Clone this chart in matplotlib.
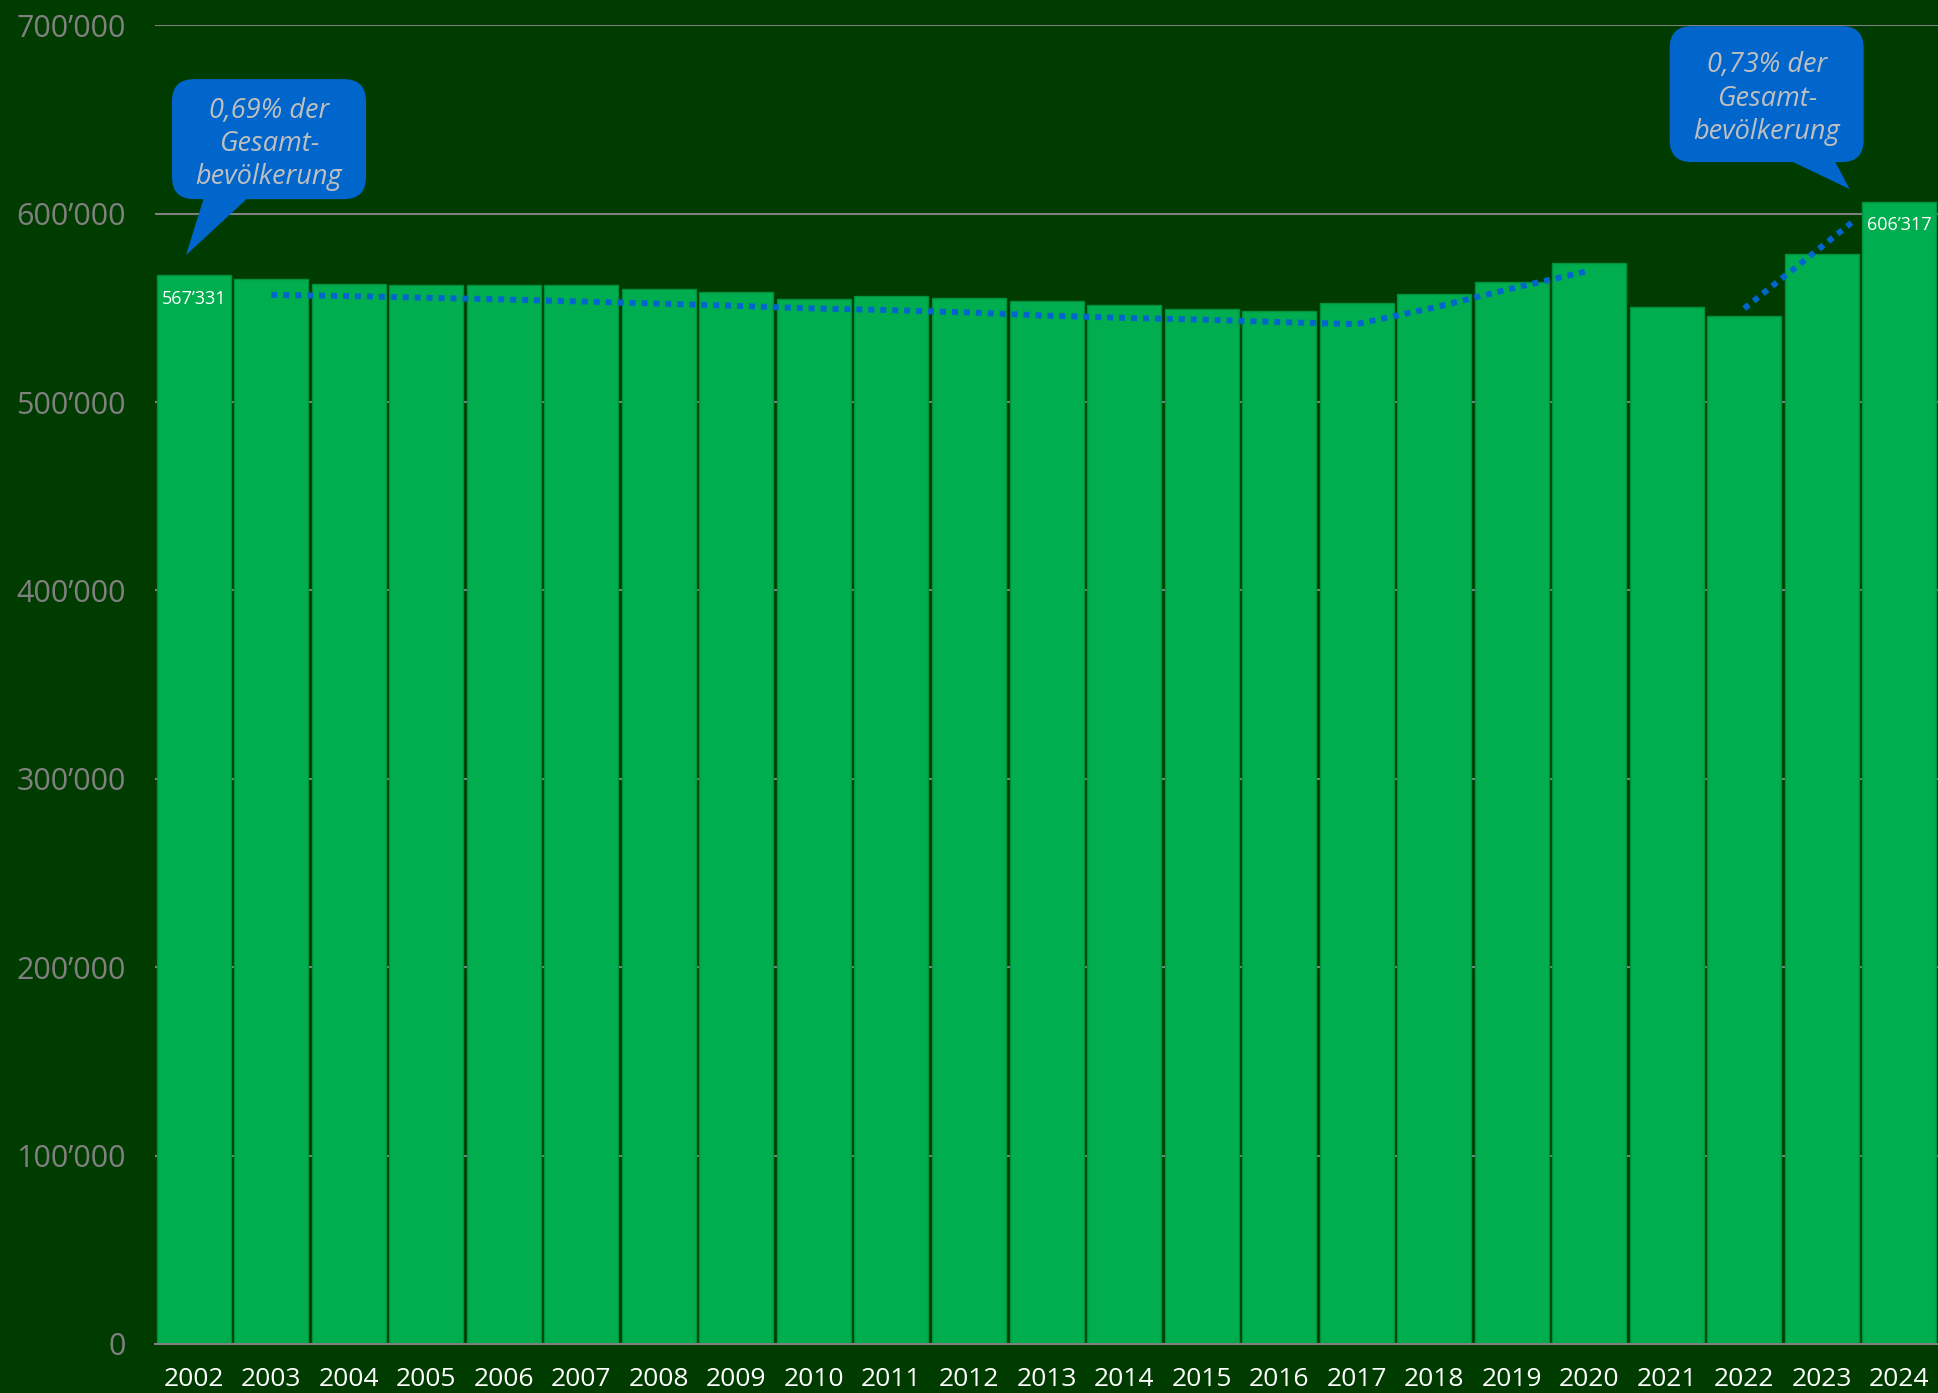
import matplotlib
matplotlib.use('Agg')
import matplotlib.pyplot as plt
from matplotlib.ticker import FuncFormatter
from matplotlib.patches import FancyBboxPatch, Polygon
from matplotlib.transforms import ScaledTranslation

# data
years = list(range(2002, 2025))
values = [567331, 565300, 562600, 561900, 562100, 561900, 559800, 558700, 554600,
          556400, 555000, 553600, 551500, 549400, 548300, 552500, 557500, 563700,
          573800, 550400, 545800, 578700, 606317]
labelled_years = [2002, 2024]

trend1_years = list(range(2003, 2021))
trend1_values = [556900, 556300, 555400, 554500, 553400, 552300, 551100, 549700, 548800,
                 547600, 545900, 544700, 543800, 542500, 541400, 550200, 560300, 569700]
trend2_years = [2022, 2023.4]
trend2_values = [549700, 595700]

yticks = [0, 100000, 200000, 300000, 400000, 500000, 600000, 700000]
callout_texts = ['0,69% der\nGesamt-\nbevölkerung', '0,73% der\nGesamt-\nbevölkerung']

bg = '#003b00'
barColor = '#00ad4f'
blue = '#0066cc'
grey = '#808080'

plt.rcParams['font.family'] = ['Open Sans', 'DejaVu Sans']

fig = plt.figure(figsize=(19.38, 13.93), dpi=100, facecolor=bg)
ax = fig.add_axes([0.080, 0.0352, 0.920, 0.9466])
ax.set_facecolor(bg)

ax.bar(years, values, width=0.955, color=barColor, edgecolor='#00913f', linewidth=1.0, zorder=2)

ax.plot(trend1_years, trend1_values, color=blue, lw=4.3, linestyle=(0, (1, 1)),
        dash_capstyle='butt', zorder=3)
ax.plot(trend2_years, trend2_values, color=blue, lw=4.3, linestyle=(0, (1, 1)),
        dash_capstyle='butt', zorder=3)

def fmt(v, pos=None):
 return '{:,}'.format(int(v)).replace(',', '\u2019')

for y, v in zip(years, values):
 if y in labelled_years:
  ax.annotate(fmt(v), xy=(y, v), xytext=(0, -17), textcoords='offset points',
              ha='center', va='center', color='white', fontsize=13, zorder=4)

ax.set_xlim(2001.5, 2024.5)
ax.set_ylim(0, 700000)
ax.set_yticks(yticks)
ax.yaxis.set_major_formatter(FuncFormatter(fmt))
ax.set_xticks(years)
ax.set_xticklabels([str(y) for y in years])
ax.tick_params(axis='y', length=0, pad=21, labelsize=22, labelcolor=grey)
ax.tick_params(axis='x', length=0, pad=16.5, labelsize=19, labelcolor='white')
ax.grid(axis='y', color=grey, lw=1.5, zorder=0)
ax.set_axisbelow(True)
for s in ['top', 'right', 'left']:
 ax.spines[s].set_visible(False)
ax.spines['bottom'].set_color(grey)
ax.spines['bottom'].set_linewidth(1.5)
ax.spines['bottom'].set_zorder(5)

# speech-bubble callouts: anchor in data units, box and tail sized in inches
callouts = [
 ((2002.97, 639600), 1.94, 1.20, [(-0.64, -0.55), (-0.17, -0.55), (-0.83, -1.16)], -0.05),
 ((2022.29, 663500), 1.94, 1.36, [(0.16, -0.63), (0.66, -0.63), (0.83, -0.95)], -0.045),
]
for text, (center, w, h, tail, dy) in zip(callout_texts, callouts):
 tr = fig.dpi_scale_trans + ScaledTranslation(center[0], center[1], ax.transData)
 ax.add_patch(FancyBboxPatch((-w / 2, -h / 2), w, h, boxstyle='round,pad=0,rounding_size=0.22',
                             fc=blue, ec='none', transform=tr, zorder=6, clip_on=False))
 ax.add_patch(Polygon(tail, closed=True, fc=blue, ec='none', transform=tr, zorder=6, clip_on=False))
 ax.text(0, dy, text, transform=tr, ha='center', va='center', multialignment='center',
         fontsize=19.5, style='italic', color='#bfbfbf', linespacing=1.25, zorder=7)

fig.savefig('out.png', dpi=100, facecolor=bg)
